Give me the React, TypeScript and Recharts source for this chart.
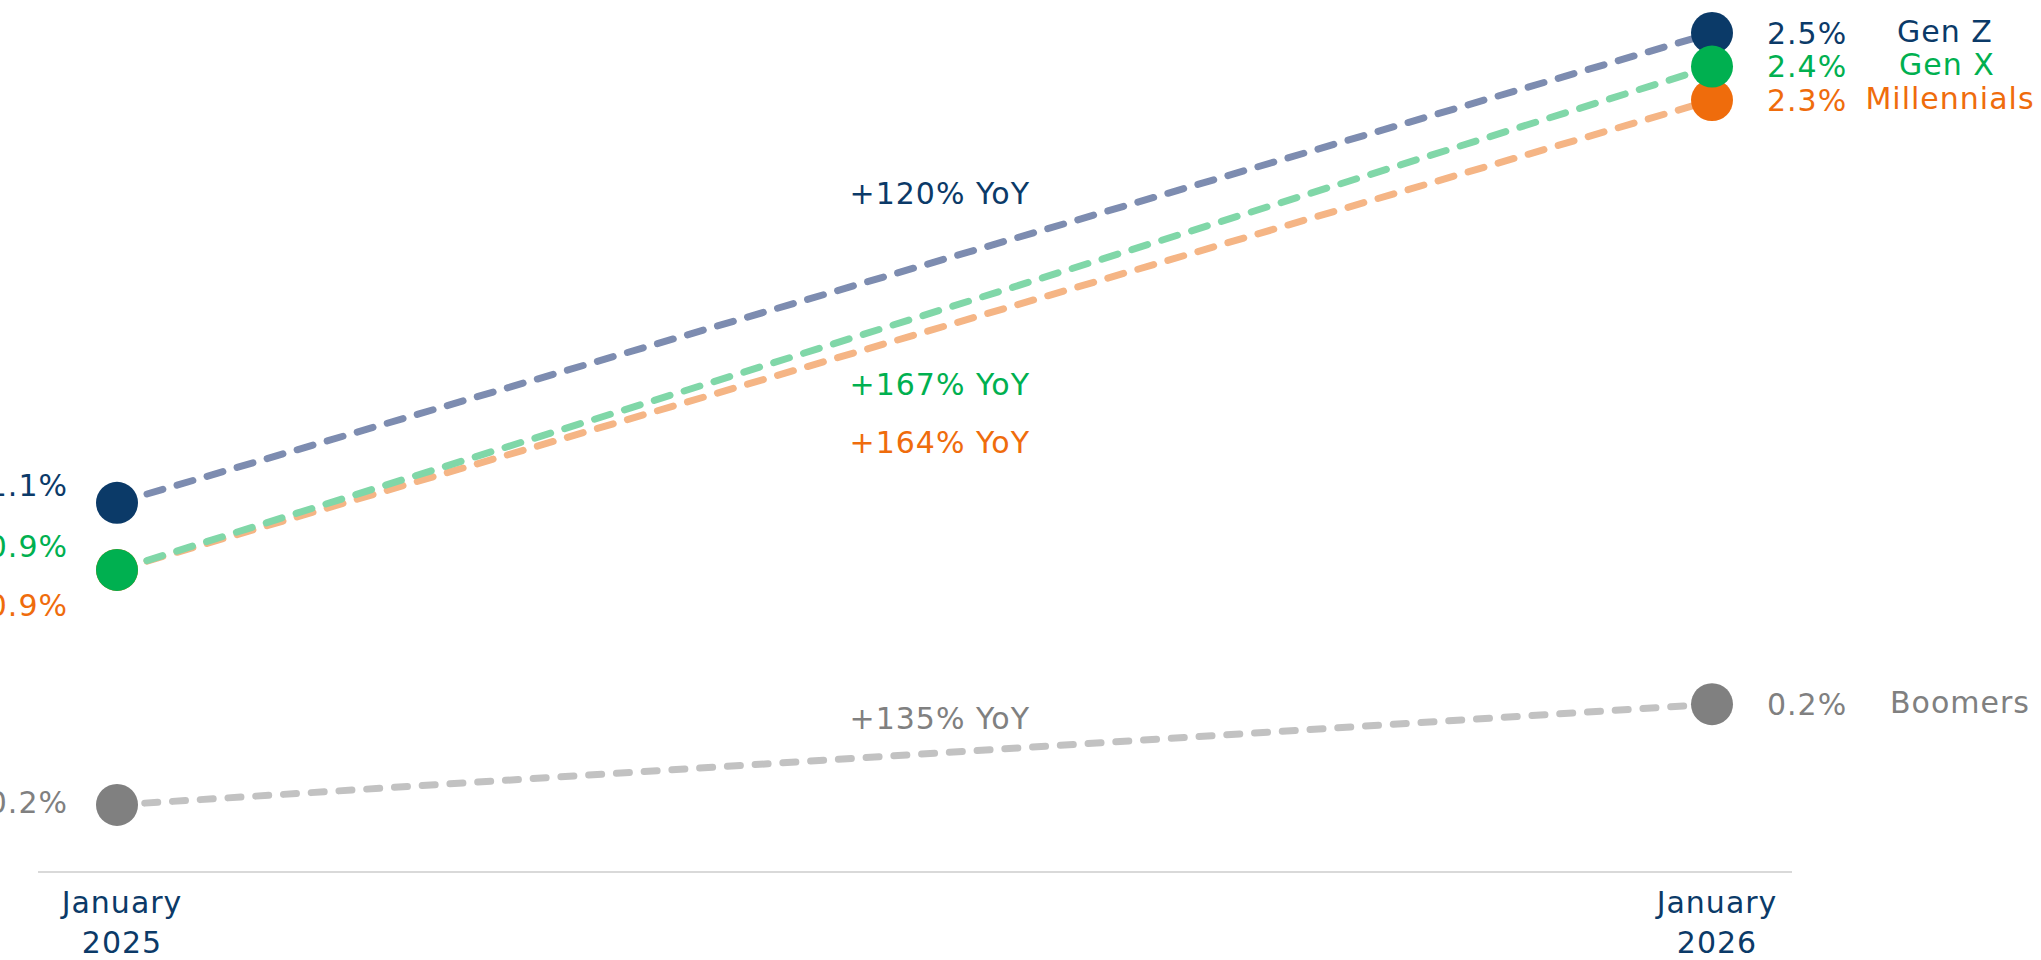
import React from 'react';
import {
  LineChart,
  Line,
  XAxis,
  YAxis,
  LabelList,
  ReferenceDot,
} from 'recharts';

const periods = ['January 2025', 'January 2026'];

const seriesNames = ['Gen Z', 'Gen X', 'Millennials', 'Boomers'];

const genZ = [1.1, 2.5];
const genX = [0.9, 2.4];
const millennials = [0.9, 2.3];
const boomers = [0.2, 0.5];

const genZLabels = ['1.1%', '2.5%'];
const genXLabels = ['0.9%', '2.4%'];
const millennialsLabels = ['0.9%', '2.3%'];
const boomersLabels = ['0.2%', '0.2%'];

const yoyLabels = ['+120% YoY', '+167% YoY', '+164% YoY', '+135% YoY'];

const FONT = '"DejaVu Sans", "Noto Sans", sans-serif';
const FONT_SIZE = 30;
const SPACING = 1;

const data = periods.map((p, i) => ({
  t: i,
  period: p,
  genZ: genZ[i],
  genX: genX[i],
  millennials: millennials[i],
  boomers: boomers[i],
}));

// drawing order: gen x last so its dots sit on top
const series = [
  {
    key: 'boomers',
    name: seriesNames[3],
    values: boomers,
    labels: boomersLabels,
    yoy: yoyLabels[3],
    dot: '#808080',
    line: '#c2c2c2',
    text: '#808080',
    dash: '13 14.8',
    leftDy: -2,
    yoyDy: -36,
    nameDx: 248,
  },
  {
    key: 'genZ',
    name: seriesNames[0],
    values: genZ,
    labels: genZLabels,
    yoy: yoyLabels[0],
    dot: '#0b3a68',
    line: '#7d8cb0',
    text: '#0b3a68',
    dash: '16.5 14.8',
    leftDy: -17,
    yoyDy: -74,
    nameDx: 233,
  },
  {
    key: 'millennials',
    name: seriesNames[2],
    values: millennials,
    labels: millennialsLabels,
    yoy: yoyLabels[2],
    dot: '#ef6c0c',
    line: '#f5b585',
    text: '#ef6c0c',
    dash: '16.5 14.8',
    leftDy: 36,
    yoyDy: 107,
    nameDx: 238,
  },
  {
    key: 'genX',
    name: seriesNames[1],
    values: genX,
    labels: genXLabels,
    yoy: yoyLabels[1],
    dot: '#00b050',
    line: '#80d7a8',
    text: '#00b050',
    dash: '16.5 14.8',
    leftDy: -23,
    yoyDy: 66,
    nameDx: 235,
  },
];

type Series = (typeof series)[number];

const textProps = {
  fontSize: FONT_SIZE,
  fontFamily: FONT,
  letterSpacing: SPACING,
  dominantBaseline: 'central' as const,
};

const makeLabel = (s: Series) => (props: any) => {
  const { x, y, index } = props;
  if (index === 0) {
    return (
      <text x={x - 49} y={y + s.leftDy} textAnchor="end" fill={s.text} {...textProps}>
        {s.labels[0]}
      </text>
    );
  }
  return (
    <g>
      <text x={x + 55} y={y} textAnchor="start" fill={s.text} {...textProps}>
        {s.labels[1]}
      </text>
      <text x={x + s.nameDx} y={y - 2} textAnchor="middle" fill={s.text} {...textProps}>
        {s.name}
      </text>
    </g>
  );
};

const PeriodTick = (props: any) => {
  const { x, y, payload } = props;
  const [month, year] = periods[payload.value].split(' ');
  return (
    <text
      x={x}
      y={y}
      textAnchor="middle"
      fill="#0b3a68"
      fontSize={FONT_SIZE}
      fontFamily={FONT}
      letterSpacing={SPACING}
    >
      <tspan x={x + 5} dy={33}>
        {month}
      </tspan>
      <tspan x={x + 5} dy={40}>
        {year}
      </tspan>
    </text>
  );
};

export default function App() {
  return (
    <div style={{ position: 'absolute', left: 0, top: 0, background: '#fff' }}>
      <LineChart
        width={2041}
        height={960}
        data={data}
        margin={{ top: 33, right: 249, bottom: 0, left: 38 }}
      >
        <XAxis
          dataKey="t"
          type="number"
          domain={[0, 1]}
          ticks={[0, 1]}
          allowDataOverflow
          padding={{ left: 79, right: 80 }}
          height={88}
          axisLine={{ stroke: '#d9d9d9', strokeWidth: 2 }}
          tickLine={false}
          tick={<PeriodTick />}
          interval={0}
        />
        <YAxis hide type="number" domain={[0, 2.5]} allowDataOverflow />
        {series.map((s) => (
          <Line
            key={s.key}
            type="linear"
            dataKey={s.key}
            stroke={s.line}
            strokeWidth={7}
            strokeDasharray={s.dash}
            strokeLinecap="round"
            dot={{
              r: 21,
              fill: s.dot,
              stroke: 'none',
              strokeDasharray: 'none',
              clipDot: false,
            }}
            activeDot={false}
            isAnimationActive={false}
          >
            <LabelList dataKey={s.key} content={makeLabel(s)} />
          </Line>
        ))}
        {series.map((s) => (
          <ReferenceDot
            key={`yoy-${s.key}`}
            x={0.5}
            y={(s.values[0] + s.values[1]) / 2}
            r={0}
            ifOverflow="visible"
            shape={(p: any) => (
              <text
                x={p.cx - 65}
                y={p.cy + s.yoyDy}
                textAnchor="start"
                fill={s.text}
                {...textProps}
              >
                {s.yoy}
              </text>
            )}
          />
        ))}
      </LineChart>
    </div>
  );
}
